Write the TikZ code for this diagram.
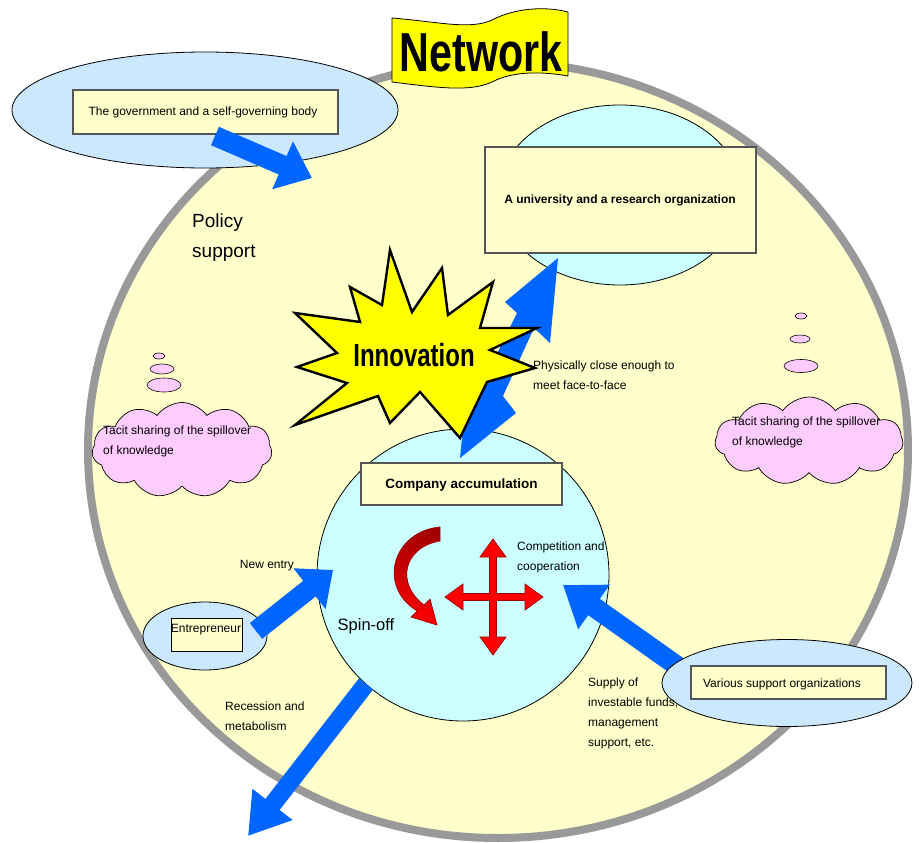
\documentclass[tikz,border=0pt]{standalone}
\usepackage{fontspec}
\setmainfont{Liberation Sans}
\newfontfamily\condfont[FakeStretch=0.75]{Liberation Sans}
\usetikzlibrary{shapes.geometric,shapes.symbols,arrows.meta}
\definecolor{paleyellow}{HTML}{FFFFCC}
\definecolor{ringgray}{HTML}{999999}
\definecolor{skyfill}{HTML}{CCE8FF}
\definecolor{cyanfill}{HTML}{CCFFFF}
\definecolor{arrowblue}{HTML}{0066FF}
\definecolor{boxedge}{HTML}{555555}
\definecolor{cloudpink}{HTML}{FFCCFF}
\definecolor{darkred}{HTML}{A00000}
\definecolor{starfill}{HTML}{FFFF00}
\tikzset{
  smalltext/.style={font=\fontsize{12}{20}\selectfont, inner sep=0pt, align=left},
  oval/.style={ellipse, draw=black, line width=0.8pt, fill=skyfill, inner sep=0pt},
  cyanoval/.style={ellipse, draw=black, line width=0.8pt, fill=cyanfill, inner sep=0pt},
  labelbox/.style={rectangle, draw=boxedge, line width=1.3pt, fill=paleyellow, inner sep=0pt},
  bubble/.style={ellipse, draw=black, line width=0.6pt, fill=cloudpink, inner sep=0pt},
  thought/.style={cloud, cloud puffs=11, cloud puff arc=110, draw=black, line width=0.7pt, fill=cloudpink, inner sep=0pt},
  bluearrow/.style n args={3}{draw=arrowblue, line width=#1, -{Triangle[length=#2,width=#3]}},
  redshape/.style={draw=darkred, line width=0.7pt, fill=red}
}
\begin{document}
\begin{tikzpicture}[x=1pt,y=-1pt]
\useasboundingbox (0,0) rectangle (919,843);

% big network circle
\node[ellipse, minimum width=820pt, minimum height=776pt, draw=ringgray, line width=8pt, fill=paleyellow, inner sep=0pt] (net) at (498,450) {};

% government
\node[oval, minimum width=386pt, minimum height=116pt] (gov) at (205,110) {};
\node[labelbox, minimum width=265pt, minimum height=44pt] (govbox) at (205.5,112) {};
\node[smalltext] (govtext) at (203,112) {The government and a self-governing body};

% university
\node[cyanoval, minimum width=244pt, minimum height=180pt] (uni) at (620,195) {};
\node[labelbox, minimum width=271pt, minimum height=106pt] (unibox) at (620.5,200) {};
\node[font=\bfseries\fontsize{12}{14}\selectfont, inner sep=0pt] (unitext) at (620,200) {A university and a research organization};

% company accumulation circle
\node[circle, draw=black, line width=0.8pt, fill=cyanfill, minimum size=292pt, inner sep=0pt] (comp) at (463,575) {};

% zigzag arrow company -> university
\coordinate (zigtip) at (558,258);
\coordinate (zigbase) at (460,458);
\fill[arrowblue] (zigtip) -- (550,343) -- (534,328) -- (503,396) -- (516,413) -- (zigbase) -- (466,398) -- (488,372) -- (517,313) -- (505,302) -- cycle;

% innovation starburst
\filldraw[fill=starfill, draw=black, line width=2.4pt, line join=miter, miter limit=20]
 (390,250) -- (412,312) -- (442,268) -- (448,315) -- (493,282) -- (480,328) -- (537,328) -- (490,350)
 -- (535,368) -- (487,382) -- (460,438) -- (420,392) -- (390,423) -- (378,396)
 -- (295,425) -- (347,383) -- (297,367) -- (337,353) -- (295,313) -- (360,322) -- (350,287) -- (382,305) -- cycle;
\node[font=\condfont\bfseries\fontsize{32}{34}\selectfont, inner sep=0pt] (innov) at (414,355) {Innovation};

% company box
\node[labelbox, minimum width=201pt, minimum height=42pt] (compbox) at (461.5,484) {};
\node[font=\bfseries\fontsize{13.5}{15}\selectfont, inner sep=0pt] (comptext) at (461.5,485) {Company accumulation};

% clouds
\node[thought, minimum width=180pt, minimum height=95pt] (cloudL) at (182,450) {};
\node[bubble, minimum width=34pt, minimum height=14pt] (bl3) at (164,385) {};
\node[bubble, minimum width=24pt, minimum height=10pt] (bl2) at (162,369) {};
\node[bubble, minimum width=12pt, minimum height=6pt] (bl1) at (159,356) {};
\node[smalltext, anchor=west] (cloudLtext) at (103,441) {Tacit sharing of the spillover\\of knowledge};

\node[thought, minimum width=188pt, minimum height=88pt] (cloudR) at (809,441) {};
\node[bubble, minimum width=34pt, minimum height=13pt] (br3) at (801,366) {};
\node[bubble, minimum width=20pt, minimum height=8pt] (br2) at (800,339) {};
\node[bubble, minimum width=12pt, minimum height=6pt] (br1) at (801,316) {};
\node[smalltext, anchor=west] (cloudRtext) at (732,432) {Tacit sharing of the spillover\\of knowledge};

% red spin-off curved arrow
\path[draw=darkred, line width=0.7pt, top color=darkred, bottom color=red]
 (440,527) .. controls (394,531) and (376,585) .. (417,611) -- (411,617) -- (437,625) -- (430,599) -- (424,605)
 .. controls (395,583) and (404,547) .. (440,541) -- cycle;

% red four-way arrow
\filldraw[redshape]
 (496.5,593.5) -- (525,593.5) -- (525,584) -- (543,597) -- (525,610) -- (525,600.5) -- (496.5,600.5)
 -- (496.5,637) -- (506,637) -- (493,655) -- (480,637) -- (489.5,637) -- (489.5,600.5)
 -- (463,600.5) -- (463,610) -- (445,597) -- (463,584) -- (463,593.5) -- (489.5,593.5)
 -- (489.5,557) -- (480,557) -- (493,539) -- (506,557) -- (496.5,557) -- cycle;

\node[font=\fontsize{16.5}{18}\selectfont, inner sep=0pt] (spin) at (366,626) {Spin-off};
\node[smalltext, anchor=west] (comptxt) at (517,557) {Competition and\\cooperation};

% entrepreneur
\node[oval, minimum width=124pt, minimum height=68pt] (ent) at (205,636) {};
\node[labelbox, line width=1pt, draw=black, minimum width=71pt, minimum height=33pt] (entbox) at (206.5,634.5) {};
\node[smalltext] (enttext) at (206,630) {Entrepreneur};
\coordinate (entstart) at (256,631);
\coordinate (entend) at (333,570);
\draw[bluearrow={20pt}{30pt}{50pt}] (entstart) -- (entend);
\node[smalltext] (newentry) at (267,566) {New entry};

% support organizations
\coordinate (supstart) at (680,668);
\coordinate (supend) at (563,585);
\draw[bluearrow={20pt}{38pt}{52pt}] (supstart) -- (supend);
\node[oval, minimum width=250pt, minimum height=87pt] (supp) at (787,683) {};
\node[labelbox, minimum width=195pt, minimum height=33pt] (suppbox) at (788.5,682.5) {};
\node[smalltext] (supptext) at (782,684) {Various support organizations};
\node[smalltext, anchor=west] (supply) at (588,713) {Supply of\\investable funds,\\management\\support, etc.};

% government arrow
\coordinate (govstart) at (215,136);
\coordinate (govend) at (312,178);
\draw[bluearrow={20pt}{32pt}{50pt}] (govstart) -- (govend);
\node[font=\fontsize{19}{30}\selectfont, inner sep=0pt, align=left, anchor=west] (policy) at (192,238) {Policy\\support};

% physically close
\node[smalltext, anchor=west] (phys) at (533,375) {Physically close enough to\\meet face-to-face};

% recession arrow
\coordinate (recstart) at (366,684);
\coordinate (recend) at (248,836);
\draw[bluearrow={18pt}{40pt}{48pt}] (recstart) -- (recend);
\node[smalltext, anchor=west] (recess) at (225,716) {Recession and\\metabolism};

% network banner
\filldraw[fill=starfill, draw=black, line width=0.8pt]
 (392,18) .. controls (440,22) and (470,30) .. (492,20) .. controls (515,8) and (545,6) .. (568,12)
 -- (568,76) .. controls (545,72) and (515,70) .. (492,82) .. controls (470,92) and (440,88) .. (392,82) -- cycle;
\node[font=\condfont\bfseries\fontsize{55}{58}\selectfont, inner sep=0pt] (nettitle) at (481,52) {Network};
\end{tikzpicture}
\end{document}
